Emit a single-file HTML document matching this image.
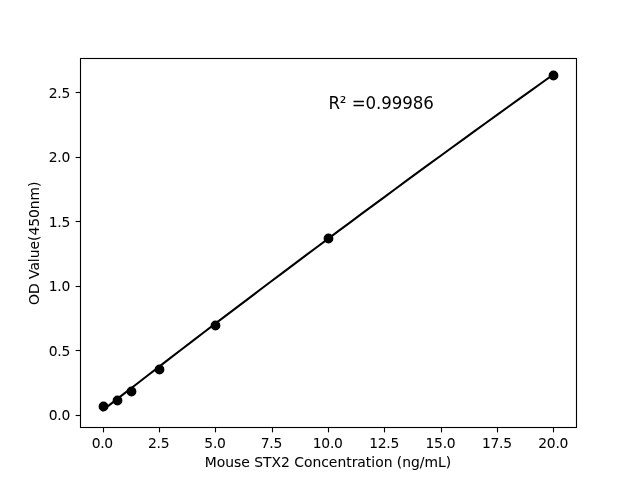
<!DOCTYPE html>
<html lang="en">
<head>
<meta charset="utf-8">
<title>Mouse STX2 standard curve</title>
<style>
html,body{margin:0;padding:0;background:#fff;}
body{width:640px;height:480px;overflow:hidden;}
svg{display:block;}
text{font-family:"DejaVu Sans","Liberation Sans",sans-serif;fill:#000;stroke:#000;stroke-width:0.05px;}
.t{font-size:13.889px;}
.xt{letter-spacing:-0.25px;}
.yt{letter-spacing:-0.15px;}
.xl{letter-spacing:0px;}
.yl{letter-spacing:-0.02px;}
.a{font-size:16.667px;stroke-width:0px;letter-spacing:-0.1px;}
</style>
</head>
<body>
<svg width="640" height="480" viewBox="0 0 640 480">
<rect x="0" y="0" width="640" height="480" fill="#ffffff"/>
<!-- tick marks -->
<g stroke="#000" stroke-width="1.111" fill="none">
<line x1="103.5" y1="427.5" x2="103.5" y2="432.36"/>
<line x1="159.5" y1="427.5" x2="159.5" y2="432.36"/>
<line x1="215.5" y1="427.5" x2="215.5" y2="432.36"/>
<line x1="272.5" y1="427.5" x2="272.5" y2="432.36"/>
<line x1="328.5" y1="427.5" x2="328.5" y2="432.36"/>
<line x1="384.5" y1="427.5" x2="384.5" y2="432.36"/>
<line x1="441.5" y1="427.5" x2="441.5" y2="432.36"/>
<line x1="497.5" y1="427.5" x2="497.5" y2="432.36"/>
<line x1="553.5" y1="427.5" x2="553.5" y2="432.36"/>
<line x1="80.5" y1="415.5" x2="75.64" y2="415.5"/>
<line x1="80.5" y1="350.5" x2="75.64" y2="350.5"/>
<line x1="80.5" y1="286.5" x2="75.64" y2="286.5"/>
<line x1="80.5" y1="221.5" x2="75.64" y2="221.5"/>
<line x1="80.5" y1="157.5" x2="75.64" y2="157.5"/>
<line x1="80.5" y1="92.5" x2="75.64" y2="92.5"/>
</g>
<!-- x tick labels -->
<g class="t xt" text-anchor="middle">
<text x="102.30" y="447.50">0.0</text>
<text x="158.66" y="447.50">2.5</text>
<text x="215.02" y="447.50">5.0</text>
<text x="271.39" y="447.50">7.5</text>
<text x="327.75" y="447.50">10.0</text>
<text x="384.11" y="447.50">12.5</text>
<text x="440.48" y="447.50">15.0</text>
<text x="496.84" y="447.50">17.5</text>
<text x="553.20" y="447.50">20.0</text>
</g>
<!-- y tick labels -->
<g class="t yt" text-anchor="end">
<text x="70.25" y="420">0.0</text>
<text x="70.25" y="356">0.5</text>
<text x="70.25" y="291">1.0</text>
<text x="70.25" y="227">1.5</text>
<text x="70.25" y="162">2.0</text>
<text x="70.25" y="98">2.5</text>
</g>
<!-- axis labels -->
<text class="t xl" text-anchor="middle" x="328.00" y="466.50">Mouse STX2 Concentration (ng/mL)</text>
<text class="t yl" text-anchor="middle" transform="translate(38.50 243.25) rotate(-90)">OD Value(450nm)</text>
<!-- fitted curve -->
<polyline points="102.55,410.40 113.82,401.65 125.09,392.92 136.36,384.20 147.64,375.51 158.91,366.83 170.18,358.17 181.45,349.52 192.73,340.90 204.00,332.29 215.27,323.70 226.55,315.13 237.82,306.58 249.09,298.05 260.36,289.53 271.64,281.03 282.91,272.55 294.18,264.09 305.45,255.64 316.73,247.22 328.00,238.81 339.27,230.42 350.55,222.05 361.82,213.69 373.09,205.36 384.36,197.04 395.64,188.74 406.91,180.46 418.18,172.19 429.45,163.95 440.73,155.72 452.00,147.51 463.27,139.32 474.55,131.14 485.82,122.99 497.09,114.85 508.36,106.73 519.64,98.63 530.91,90.54 542.18,82.48 553.45,74.43" fill="none" stroke="#000" stroke-width="2.083" stroke-linecap="square" stroke-linejoin="round"/>
<!-- data points -->
<g fill="#000" stroke="#000" stroke-width="1.47">
<circle cx="103.5" cy="406.5" r="4.167"/>
<circle cx="117.5" cy="400.5" r="4.167"/>
<circle cx="131.5" cy="391.5" r="4.167"/>
<circle cx="159.5" cy="369.5" r="4.167"/>
<circle cx="215.5" cy="325.5" r="4.167"/>
<circle cx="328.5" cy="238.5" r="4.167"/>
<circle cx="553.5" cy="75.5" r="4.167"/>
</g>
<text class="a" transform="translate(328.38 108.50) scale(1 1.020)">R² =0.99986</text>
<!-- axes frame -->
<rect x="80.5" y="58.5" width="496.0" height="369.0" fill="none" stroke="#000" stroke-width="1.111"/>
</svg>
</body>
</html>
